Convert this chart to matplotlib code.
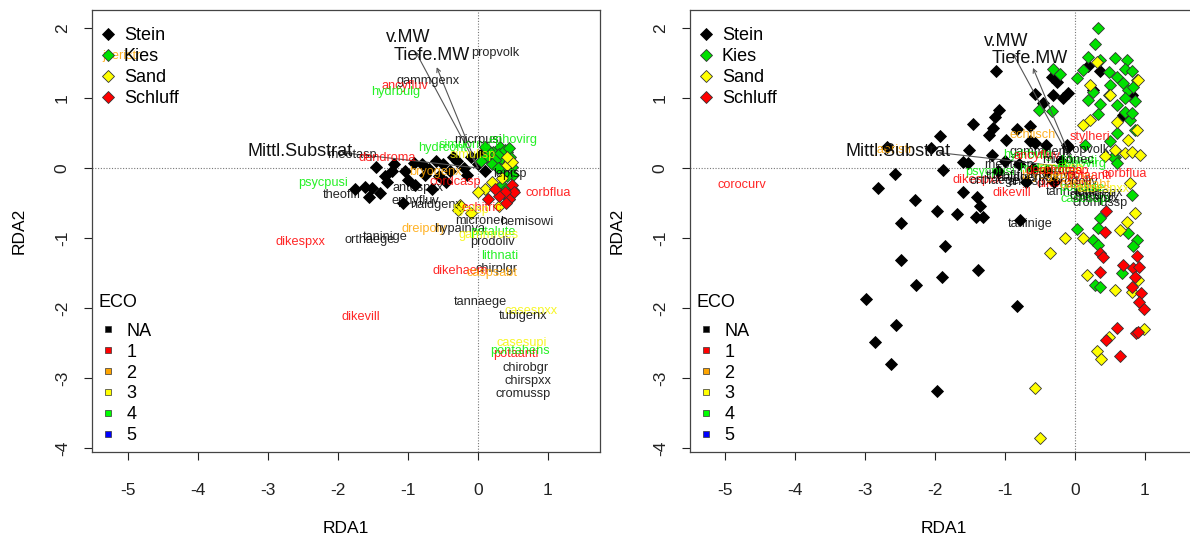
import matplotlib
matplotlib.use('Agg')
import matplotlib.pyplot as plt
from matplotlib.lines import Line2D

plt.rcParams['font.family'] = ['Liberation Sans', 'DejaVu Sans']

# ---------------- data ----------------
substrates = ['Stein', 'Kies', 'Sand', 'Schluff']
sub_colors = ['#000000', '#00E000', '#FFFF00', '#FF0000']
eco_labels = ['NA', '1', '2', '3', '4', '5']
eco_colors = ['#000000', '#FF0000', '#FFA500', '#FFFF00', '#00FF00', '#0000FF']
x_ticks = [-5, -4, -3, -2, -1, 0, 1]
y_ticks = [-4, -3, -2, -1, 0, 1, 2]

env_names = ['v.MW', 'Tiefe.MW', 'Mittl.Substrat']
# left panel biplot arrows (tips) and label positions
L_env_x = [-0.89, -0.59, -1.95]
L_env_y = [1.66, 1.44, 0.22]
L_envlab_x = [-1.00, -0.66, -2.54]
L_envlab_y = [1.86, 1.60, 0.23]
R_env_x = [-0.89, -0.60, -1.95]
R_env_y = [1.64, 1.43, 0.22]
R_envlab_x = [-0.99, -0.64, -2.53]
R_envlab_y = [1.80, 1.57, 0.23]

# left panel site scores
L_stein_x = [-1.45, -1.23, -1.33, -1.52, -1.40, -1.61, -1.04, -0.92, -1.00, -1.07, -1.75, -1.55,
             -1.30, -1.20, -0.80, -0.70, -0.60, -0.50, -0.40, -0.30, -0.20, -0.10, 0.00, -0.75,
             -0.55, -0.35, -0.15, 0.05, 0.10, -0.90, -0.65, -0.45]
L_stein_y = [0.02, -0.05, -0.12, -0.29, -0.36, -0.27, -0.05, 0.07, -0.17, -0.50, -0.30, -0.42,
             -0.20, 0.05, 0.05, -0.02, 0.10, 0.05, -0.05, 0.10, 0.00, 0.15, 0.05, -0.10,
             -0.12, 0.15, -0.10, 0.20, -0.05, -0.25, -0.30, -0.20]
L_kies_x = [0.41, 0.46, 0.36, 0.48, 0.31, 0.22, 0.50, 0.12, 0.41, 0.30, 0.38, 0.44, 0.25, 0.20,
            0.33, 0.15, 0.45, 0.28, 0.05, 0.35, 0.10, 0.40]
L_kies_y = [0.23, 0.16, 0.11, 0.02, 0.30, 0.23, -0.10, 0.16, -0.12, 0.20, 0.26, 0.08, 0.12, 0.05,
            -0.02, 0.25, 0.28, 0.00, 0.10, -0.25, 0.30, -0.30]
L_sand_x = [0.41, 0.48, -0.28, -0.26, 0.20, 0.35, 0.45, 0.10, 0.30, 0.50, 0.00, -0.10, 0.42]
L_sand_y = [0.04, 0.08, -0.60, -0.53, -0.20, -0.15, -0.45, -0.30, -0.55, -0.35, -0.35, -0.65, 0.15]
L_schl_x = [0.50, 0.48, 0.43, 0.52, 0.45, 0.38, 0.30, 0.40, 0.25, 0.15]
L_schl_y = [-0.31, -0.24, -0.39, -0.35, -0.45, -0.35, -0.40, -0.50, -0.30, -0.45]

# right panel site scores
R_stein_x = [-2.29, -1.97, -1.68, -1.42, -1.31, -1.35, -2.48, -1.85, -2.48, -1.90, -2.27, -1.38,
             -2.98, -2.56, -2.86, -2.63, -1.97, -0.83, -1.09, -1.14, -1.45, -1.17, -1.23, -0.83,
             -0.64, -0.98, -0.57, -0.42, -1.93, -2.05, -2.68, -1.52, -1.60, -1.53, -1.89, -2.57,
             -2.81, -1.60, -1.40, -0.79, -0.12, -1.19, -1.13, -0.57, -0.46, -0.33, -0.26, -0.31,
             -0.10, -0.17, -0.64, -0.10, 0.19, 0.36, 0.26, 0.81, 0.69, -1.00, -0.80, -0.60,
             -0.40, -0.20, -0.30, -0.70, -1.10]
R_stein_y = [-0.46, -0.61, -0.66, -0.70, -0.70, -0.54, -0.79, -1.11, -1.32, -1.56, -1.67, -1.46,
             -1.87, -2.24, -2.48, -2.80, -3.19, -1.97, 0.83, 0.73, 0.63, 0.57, 0.47, 0.55,
             0.60, 0.40, 0.35, 0.33, 0.45, 0.28, 0.30, 0.26, 0.09, 0.07, -0.03, -0.09,
             -0.28, -0.34, -0.42, -0.74, 0.33, 0.19, 1.38, 1.06, 0.93, 1.30, 1.23, 1.04,
             1.07, 1.00, 0.38, 0.30, 1.45, 1.38, 1.11, 1.04, 0.76, 0.10, 0.05, 0.00,
             -0.05, 0.10, -0.20, -0.20, -0.05]
R_kies_x = [0.33, 0.28, 0.18, 0.36, 0.57, 0.74, -0.32, -0.21, 0.03, 0.12, 0.48, 0.60, 0.71, 0.81,
            0.88, 0.50, 0.69, 0.76, 0.83, 0.26, 0.36, 0.48, 0.60, 0.71, 0.86, 0.19, -0.52, -0.33,
            0.33, 0.71, 0.79, 0.86, 0.50, 0.60, 0.81, 0.14, 0.57, 0.55, 0.60, 0.81, 0.36, 0.03,
            0.33, 0.76, 0.26, 0.33, 0.88, 0.83, 0.67, 0.29, 0.36]
R_kies_y = [2.00, 1.77, 1.58, 1.54, 1.57, 1.54, 1.42, 1.34, 1.29, 1.40, 1.37, 1.30, 1.42, 1.38,
            1.26, 1.19, 1.21, 1.11, 1.16, 1.09, 0.92, 1.04, 0.90, 1.00, 0.95, 0.97, 0.83, 0.81,
            0.77, 0.80, 0.69, 0.54, 0.38, 0.50, 0.78, 0.33, 0.16, 0.16, 0.07, -0.39, -0.72, -0.87,
            -0.86, -0.93, -1.03, -1.10, -1.03, -1.12, -1.50, -1.67, -1.70]
R_sand_x = [0.32, 0.21, 0.50, 0.90, 0.12, 0.21, 0.60, 0.76, 0.89, 0.57, 0.71, 0.81, 0.93, 0.43,
            0.79, 0.86, 0.75, 0.64, 0.12, -0.14, -0.36, 0.17, 0.57, 0.81, 0.90, 0.48, 0.99, 0.32,
            0.37, -0.57, -0.50]
R_sand_y = [1.52, 1.19, 1.04, 1.26, 0.61, 0.69, 0.65, 0.40, 0.54, 0.26, 0.21, 0.23, 0.19, 0.17,
            -0.22, -0.64, -0.77, -0.89, -1.00, -1.00, -1.22, -1.53, -1.74, -1.77, -1.60, -2.41,
            -2.30, -2.61, -2.73, -3.14, -3.85]
R_schl_x = [0.45, 0.43, 0.36, 0.40, 0.88, 0.69, 0.83, 0.92, 0.36, 0.86, 0.81, 0.95, 0.92, 0.99,
            0.60, 0.45, 0.87, 0.90, 0.65]
R_schl_y = [-0.62, -0.91, -1.22, -1.27, -1.26, -1.39, -1.43, -1.42, -1.48, -1.55, -1.70, -1.79,
            -1.92, -2.02, -2.28, -2.46, -2.36, -2.34, -2.68]

# species labels (name, colour) with positions per panel
L_spec = ['jaeristr', 'propvolk', 'gammgenx', 'ancyfluv', 'hydrbulg', 'psycpusi', 'theoflfl',
          'rheotasp', 'dendroma', 'bryogenx', 'hydrcont', 'simulisp', 'simuornu', 'micrpusi',
          'ephovirg', 'corbflua', 'cordcasp', 'antospxx', 'ephyfluv', 'naidgenx', 'dreipoly',
          'hypainva', 'dikespxx', 'orthaege', 'taninige', 'micronec', 'hemisowi', 'potalute',
          'gammroes', 'prodoliv', 'lithnati', 'chirplgr', 'dikehaem', 'caspsabt', 'tannaege',
          'casespxx', 'tubigenx', 'dikevill', 'casesupi', 'potaanti', 'pontahens', 'chirobgr',
          'chirspxx', 'cromussp', 'echitric', 'hyalsp', 'lepisp']
L_spec_col = ['orange', 'black', 'black', 'red', 'lime', 'lime', 'black',
              'black', 'red', 'orange', 'lime', 'yellow', 'lime', 'black',
              'lime', 'red', 'red', 'black', 'black', 'black', 'orange',
              'black', 'red', 'black', 'black', 'black', 'black', 'lime',
              'yellow', 'black', 'lime', 'black', 'red', 'orange', 'black',
              'yellow', 'black', 'red', 'yellow', 'red', 'lime', 'black',
              'black', 'black', 'red', 'yellow', 'black']
L_spec_x = [-5.09, 0.24, -0.71, -1.04, -1.17, -2.21, -1.94,
            -1.80, -1.29, -0.61, -0.50, -0.07, -0.18, 0.00,
            0.50, 1.00, -0.33, -0.85, -0.90, -0.60, -0.77,
            -0.26, -2.53, -1.54, -1.33, 0.04, 0.70, 0.22,
            0.15, 0.20, 0.31, 0.26, -0.26, 0.20, 0.04,
            0.76, 0.64, -1.67, 0.63, 0.54, 0.60, 0.68,
            0.72, 0.65, 0.05, -0.10, 0.45]
L_spec_y = [1.60, 1.64, 1.24, 1.17, 1.09, -0.21, -0.39,
            0.19, 0.14, -0.06, 0.29, 0.19, 0.33, 0.40,
            0.40, -0.36, -0.20, -0.29, -0.47, -0.53, -0.87,
            -0.87, -1.06, -1.03, -0.98, -0.76, -0.77, -0.91,
            -0.95, -1.06, -1.26, -1.44, -1.47, -1.50, -1.91,
            -2.04, -2.11, -2.13, -2.50, -2.65, -2.62, -2.86,
            -3.04, -3.23, -0.57, -0.60, -0.08]

R_spec = ['jaeristr', 'corocurv', 'echiisch', 'stylheri', 'gammgenx', 'propvolk', 'hydrbulg',
          'ancyfluv', 'rheotasp', 'psycpusi', 'dikespxx', 'orthaege', 'theoflfl', 'dikevill',
          'cordcasp', 'taninige', 'tannaege', 'tubigenx', 'cromussp', 'chirspxx', 'dikehaem',
          'corbflua', 'casesupi', 'ephovirg', 'simulisp', 'hydrcont', 'dreipoly', 'hypainva',
          'prodoliv', 'potalute', 'antospxx', 'bryogenx', 'dendroma', 'naidgenx', 'casespxx',
          'potaanti', 'chirobgr', 'lithnati', 'caspsabt', 'micronec']
R_spec_col = ['orange', 'red', 'orange', 'red', 'black', 'black', 'lime',
              'red', 'black', 'lime', 'red', 'black', 'black', 'red',
              'red', 'black', 'black', 'black', 'black', 'black', 'red',
              'red', 'lime', 'lime', 'yellow', 'lime', 'orange', 'black',
              'black', 'lime', 'black', 'orange', 'red', 'black', 'yellow',
              'red', 'black', 'lime', 'orange', 'black']
R_spec_x = [-2.60, -4.76, -0.61, 0.21, -0.49, 0.14, -0.67,
            -0.55, -0.94, -1.21, -1.40, -1.15, -1.00, -0.90,
            -0.17, -0.64, -0.03, 0.35, 0.36, 0.30, -0.15,
            0.70, 0.15, 0.10, -0.20, -0.45, -0.05, -0.35,
            0.00, 0.10, -0.60, -0.40, -0.30, -0.75, 0.40,
            0.20, 0.25, 0.05, 0.15, -0.10]
R_spec_y = [0.26, -0.24, 0.47, 0.44, 0.23, 0.26, 0.19,
            0.17, 0.04, -0.06, -0.17, -0.18, -0.12, -0.36,
            -0.04, -0.80, -0.34, -0.36, -0.50, -0.45, -0.23,
            -0.09, -0.45, 0.05, 0.00, -0.02, -0.15, -0.10,
            -0.20, -0.28, -0.20, -0.12, -0.05, -0.15, -0.30,
            -0.12, -0.40, 0.10, -0.25, 0.12]

# ---------------- figure ----------------
W, H = 1190, 539
fig = plt.figure(figsize=(W / 100, H / 100), dpi=100)
ax1 = fig.add_axes([92 / W, 1 - 452 / H, (600 - 92) / W, (452 - 10) / H])
ax2 = fig.add_axes([690 / W, 1 - 452 / H, (1197 - 690) / W, (452 - 10) / H])

colmap = {'orange': '#FFA500', 'black': '#000000', 'red': '#FF0000', 'lime': '#00EE00',
          'yellow': '#F5F500'}


def panel(ax, xlim, groups, env_x, env_y, lab_x, lab_y, spec, spec_col, spec_x, spec_y):
    ax.set_xlim(*xlim)
    ax.set_ylim(-4.057, 2.257)
    ax.axhline(0, color='#777777', lw=0.8, ls=(0, (1, 1.5)), zorder=1)
    ax.axvline(0, color='#777777', lw=0.8, ls=(0, (1, 1.5)), zorder=1)
    for (gx, gy), col in zip(groups, sub_colors):
        ax.plot(gx, gy, ls='none', marker='D', ms=5.8, mfc=col,
                mec='#000000' if col == '#000000' else '#333333', mew=0.6, zorder=3)
    for ex, ey, lx, ly, nm in zip(env_x, env_y, lab_x, lab_y, env_names):
        ax.annotate('', xy=(ex, ey), xytext=(0, 0),
                    arrowprops=dict(arrowstyle='->', color='#555555', lw=0.8,
                                    shrinkA=0, shrinkB=0, mutation_scale=7), zorder=4)
        ax.text(lx, ly, nm, fontsize=13, ha='center', va='center', color='#111111', zorder=6)
    for nm, c, sx, sy in zip(spec, spec_col, spec_x, spec_y):
        ax.text(sx, sy, nm, fontsize=9.2, ha='center', va='center', color=colmap[c],
                alpha=0.85, zorder=5)
    ax.set_xticks(x_ticks)
    ax.set_yticks(y_ticks)
    ax.set_xticklabels([str(v) for v in x_ticks])
    ax.set_yticklabels([str(v) for v in y_ticks], rotation=90, va='center')
    ax.tick_params(axis='x', direction='out', length=6, width=0.8, labelsize=12.5, pad=16,
                   colors='#222222')
    ax.tick_params(axis='y', direction='out', length=6, width=0.8, labelsize=12.5, pad=10,
                   colors='#222222')
    for s in ax.spines.values():
        s.set_color('#444444')
        s.set_linewidth(0.9)
    ax.set_xlabel('RDA1', fontsize=12.5, labelpad=17)
    ax.set_ylabel('RDA2', fontsize=12.5, labelpad=20)

    h1 = [Line2D([], [], ls='none', marker='D', ms=6.0, mfc=c,
                 mec='#000000' if c == '#000000' else '#333333', mew=0.6) for c in sub_colors]
    leg1 = ax.legend(h1, substrates, loc='upper left', bbox_to_anchor=(-0.012, 0.99),
                     frameon=False, fontsize=13, handletextpad=0.4, labelspacing=0.22,
                     borderaxespad=0.3, handlelength=1.0)
    ax.add_artist(leg1)
    h2 = [Line2D([], [], ls='none', marker='s', ms=5, mfc=c, mec='#333333', mew=0.5)
          for c in eco_colors]
    leg2 = ax.legend(h2, eco_labels, loc='upper left', bbox_to_anchor=(-0.012, 0.385),
                     frameon=False, fontsize=13, handletextpad=0.55, labelspacing=0.22,
                     borderaxespad=0.3, handlelength=1.0, title='ECO', title_fontsize=13)
    leg2._legend_box.align = 'left'
    leg2._legend_box.sep = 8


panel(ax1, (-5.514, 1.743),
      [(L_stein_x, L_stein_y), (L_kies_x, L_kies_y), (L_sand_x, L_sand_y), (L_schl_x, L_schl_y)],
      L_env_x, L_env_y, L_envlab_x, L_envlab_y, L_spec, L_spec_col, L_spec_x, L_spec_y)
panel(ax2, (-5.5, 1.743),
      [(R_stein_x, R_stein_y), (R_kies_x, R_kies_y), (R_sand_x, R_sand_y), (R_schl_x, R_schl_y)],
      R_env_x, R_env_y, R_envlab_x, R_envlab_y, R_spec, R_spec_col, R_spec_x, R_spec_y)

fig.savefig('out.png', dpi=100)
